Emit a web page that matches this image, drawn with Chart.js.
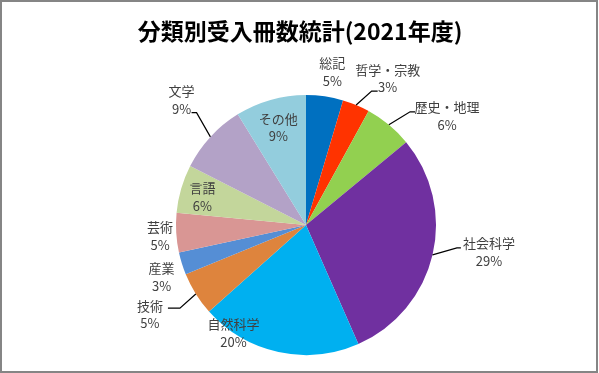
<!DOCTYPE html>
<html>
<head>
<meta charset="utf-8">
<script src="https://cdn.jsdelivr.net/npm/chart.js@4"></script>
<style>
  body { margin: 0; background: #fff; }
  canvas { display: block; }
</style>
</head>
<body>
<canvas id="pie_chart" width="599" height="373"></canvas>
<script>
const title = '分類別受入冊数統計(2021年度)';

const categories = [
  '総記', '哲学・宗教', '歴史・地理', '社会科学', '自然科学', '技術',
  '産業', '芸術', '言語', '文学', 'その他'
];

// share of books per class (%)
const shares = [4.6, 3.4, 6.0, 29.4, 20.0, 5.4, 2.8, 4.9, 6.0, 8.7, 8.8];

const colors = [
  '#0070C0', '#FF3300', '#92D050', '#7030A0', '#00B0F0', '#DE843D',
  '#558ED5', '#D99694', '#C3D69B', '#B3A2C7', '#93CDDD'
];

// label placement: [radius factor, dx, dy]; leader: [end dx, end dy, elbow length] or null
const labelPlace = [
  [1.19, 4, 0], [1.25, 19, 3], [1.28, 35, 19], [1.43, 2, -16],
  [1.0, -45, -19], [1.38, -4, -6], [1.18, 2, 6], [1.125, 0, 2],
  [0.83, 0, 2], [1.354, 5, -6], [0.78, 0, 0]
];
const leaders = [
  null, [-10, 13, -6], [-32, -4, -5], [-28, -4, -4], null,
  [18, -6, 12], null, null, null, [10, 13, 5], null
];

const pieLabels = {
  id: 'pieLabels',
  afterDatasetsDraw(chart) {
    const c = chart.ctx;
    const arcs = chart.getDatasetMeta(0).data;
    const total = shares.reduce((a, b) => a + b, 0);
    c.save();
    c.font = '13px "Noto Sans CJK JP", sans-serif';
    c.textAlign = 'center';
    c.textBaseline = 'middle';
    arcs.forEach((arc, i) => {
      const p = arc.getProps(['x', 'y', 'startAngle', 'endAngle', 'outerRadius'], true);
      const mid = (p.startAngle + p.endAngle) / 2;
      const [f, dx, dy] = labelPlace[i];
      const lx = p.x + Math.cos(mid) * p.outerRadius * f + dx;
      const ly = p.y + Math.sin(mid) * p.outerRadius * f + dy;
      const ld = leaders[i];
      if (ld) {
        const ex = lx + ld[0], ey = ly + ld[1];
        c.strokeStyle = '#000';
        c.lineWidth = 1.2;
        c.beginPath();
        c.moveTo(p.x + Math.cos(mid) * p.outerRadius, p.y + Math.sin(mid) * p.outerRadius);
        c.lineTo(ex + ld[2], ey);
        c.lineTo(ex, ey);
        c.stroke();
      }
      c.fillStyle = '#404040';
      c.fillText(categories[i], lx, ly - 8.5);
      c.fillText(Math.round(shares[i] / total * 100) + '%', lx, ly + 9);
    });
    c.restore();
  },
  afterDraw(chart) {
    const c = chart.ctx;
    c.save();
    c.fillStyle = '#000';
    c.font = 'bold 23px "Noto Sans CJK JP", sans-serif';
    c.textAlign = 'center';
    c.textBaseline = 'middle';
    c.fillText(title, 300, 31);
    c.strokeStyle = '#858585';
    c.lineWidth = 2;
    c.strokeRect(1, 1, 596, 371);
    c.restore();
  }
};

const ctx = document.getElementById('pie_chart').getContext('2d');

const data = {
  labels: categories,
  datasets: [{
    data: shares,
    backgroundColor: colors,
    borderWidth: 0
  }]
};

const config = {
  type: 'pie',
  data: data,
  options: {
    responsive: false,
    animation: false,
    layout: {
      padding: { top: 95, bottom: 18, left: 176, right: 163 }
    },
    plugins: {
      legend: { display: false },
      tooltip: { enabled: false }
    }
  },
  plugins: [pieLabels]
};

const pie_chart = new Chart(ctx, config);
</script>
</body>
</html>
